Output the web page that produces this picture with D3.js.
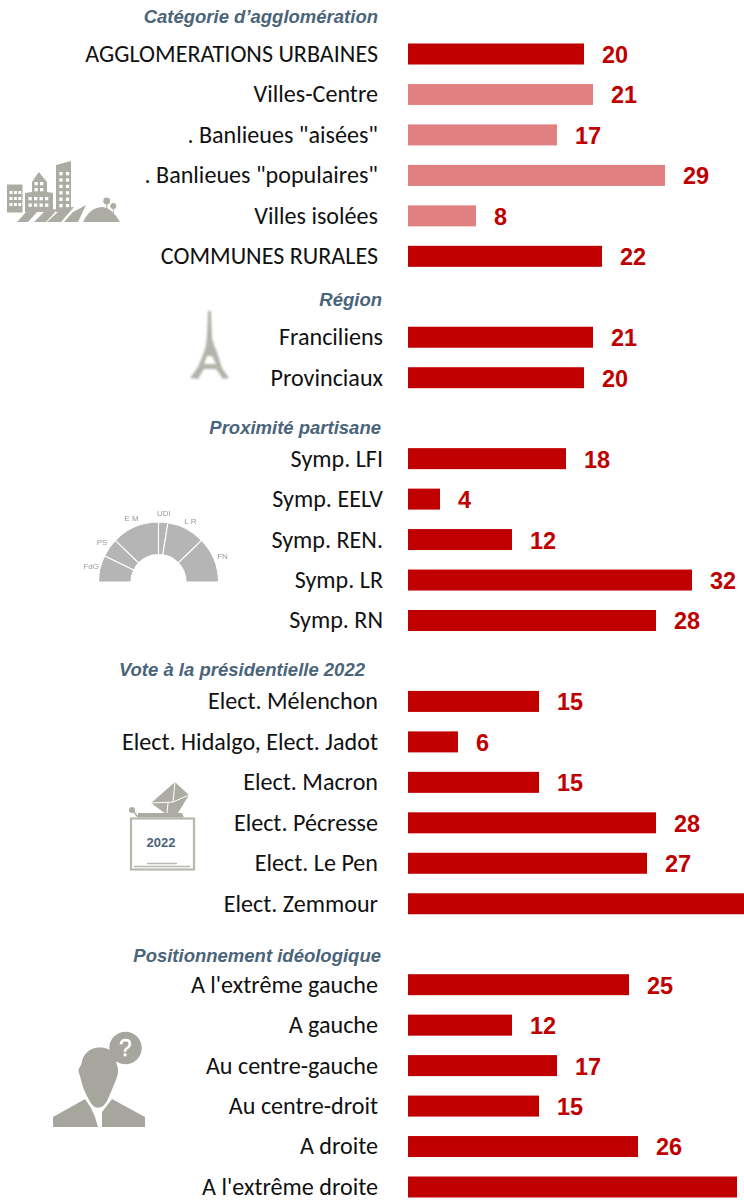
<!DOCTYPE html>
<html><head><meta charset="utf-8">
<script src="https://cdn.jsdelivr.net/npm/d3@7"></script>
<style>html,body{margin:0;padding:0;background:#fff;overflow:hidden}svg{display:block}</style>
</head><body><div id="chart"></div>
<script>
const sectionTitles = ["Catégorie d’agglomération","Région","Proximité partisane","Vote à la présidentielle 2022","Positionnement idéologique"];
const sectionLabels = [
  ["AGGLOMERATIONS URBAINES","Villes-Centre",". Banlieues \"aisées\"",". Banlieues \"populaires\"","Villes isolées","COMMUNES RURALES"],
  ["Franciliens","Provinciaux"],
  ["Symp. LFI","Symp. EELV","Symp. REN.","Symp. LR","Symp. RN"],
  ["Elect. Mélenchon","Elect. Hidalgo, Elect. Jadot","Elect. Macron","Elect. Pécresse","Elect. Le Pen","Elect. Zemmour"],
  ["A l'extrême gauche","A gauche","Au centre-gauche","Au centre-droit","A droite","A l'extrême droite"]
];
const sectionValues = [[20,21,17,29,8,22],[21,20],[18,4,12,32,28],[15,6,15,28,27,38],[25,12,17,15,26,37]];
const subRows = ["Villes-Centre",". Banlieues \"aisées\"",". Banlieues \"populaires\"","Villes isolées"];
const hemicycleParties = ["FdG","PS","E M","UDI","L R","FN"];
const hemicycleShares = [26,18,46,9,37,44];

const W=744,H=1203, RED="#C00000", PINK="#E08080", GREY="#ADACA4", TITLE="#4A6479";
const svg=d3.select("#chart").append("svg").attr("width",W).attr("height",H).attr("viewBox",`0 0 ${W} ${H}`);
const defs=svg.append("defs");
defs.append("filter").attr("id","soft").append("feGaussianBlur").attr("stdDeviation",0.5);
defs.append("filter").attr("id","softer").append("feGaussianBlur").attr("stdDeviation",0.9);

const rows=[]; let slot=0;
sectionLabels.forEach((labs,s)=>{
  labs.forEach((l,i)=>rows.push({section:s,label:l,value:sectionValues[s][i],slot:slot+i}));
  slot+=labs.length+1;
});
const y=d3.scaleLinear().domain([0,28]).range([54,1187]);
const x=d3.scaleLinear().domain([0,40]).range([404,764]);
const baseline=408, barH=21;
const labelRight=[378,383,383,378,378];
const titleRight=[378,382,381,365,381];
const titleY=[17,300,428,670,956];

const g=svg.append("g");
g.selectAll("rect.bar").data(rows).join("rect").attr("class","bar")
  .attr("x",baseline).attr("y",d=>y(d.slot)-barH/2)
  .attr("width",d=>x(d.value)-baseline).attr("height",barH)
  .attr("fill",d=>subRows.includes(d.label)?PINK:RED);
g.selectAll("text.cat").data(rows).join("text").attr("class","cat")
  .attr("x",d=>labelRight[d.section]).attr("y",d=>y(d.slot)-0.5).attr("dy","0.35em")
  .attr("text-anchor","end").attr("font-family","Carlito, Lato, sans-serif").attr("font-size",24.1).attr("fill","#111")
  .text(d=>d.label);
// the two longest bars leave no room for their value inside the picture
g.selectAll("text.val").data(rows.filter(d=>x(d.value)+18+26<=W)).join("text").attr("class","val")
  .attr("x",d=>x(d.value)+18).attr("y",d=>y(d.slot)+0.5).attr("dy","0.36em")
  .attr("font-family","'Liberation Sans',Arial,sans-serif").attr("font-weight","bold").attr("font-size",23.5).attr("fill",RED)
  .text(d=>d.value);
g.selectAll("text.title").data(sectionTitles).join("text").attr("class","title")
  .attr("x",(d,i)=>titleRight[i]).attr("y",(d,i)=>titleY[i]-0.5).attr("dy","0.35em")
  .attr("text-anchor","end").attr("font-family","'Liberation Sans',Arial,sans-serif")
  .attr("font-weight","bold").attr("font-style","italic").attr("font-size",18.5).attr("fill",TITLE)
  .text(d=>d);

const line=d3.line().curve(d3.curveLinear);
function poly(p,pts,fill=GREY){return p.append("path").attr("d",line(pts)+"Z").attr("fill",fill);}

// city
const city=svg.append("g").attr("filter","url(#soft)");
function windows(x0,y0,nx,ny,dx,dy,s){
  d3.range(ny).forEach(j=>d3.range(nx).forEach(i=>city.append("rect")
    .attr("x",x0+i*dx).attr("y",y0+j*dy).attr("width",s).attr("height",s).attr("fill","#fff")));
}
city.append("rect").attr("x",7).attr("y",184.5).attr("width",15.5).attr("height",28).attr("fill",GREY);
windows(9.5,191,3,3,4.4,6,3);
poly(city,[[25,212],[25,193],[32,192],[32,182],[36,176],[39,172],[42,176],[47,182],[47,192],[53,193],[53,212]]);
windows(28.5,197,4,2,5.5,6.5,3.3);
windows(34.5,182,2,2,5.5,6,3.3);
poly(city,[[56,212],[56,165],[71,161],[71,210]]);
windows(59.3,172,2,6,6.6,6.4,3.3);
poly(city,[[17,222],[27,211],[38,211],[28,222]]);
poly(city,[[34,222],[46,210],[58,209],[46,222]]);
poly(city,[[47,222],[62,208],[74,207],[61,222]]);
poly(city,[[64,222],[73,212],[86,205],[78,222]]);
city.append("path").attr("d","M83 222 Q90 207 103 207 Q112 208 120 222 Z").attr("fill",GREY);
city.append("circle").attr("cx",106.7).attr("cy",201).attr("r",3.4).attr("fill",GREY);
city.append("circle").attr("cx",113.3).attr("cy",206).attr("r",3).attr("fill",GREY);
city.append("path").attr("d","M106.7 203V212M113.3 208V214").attr("stroke",GREY).attr("stroke-width",1);

// Eiffel tower
const eiffel=svg.append("g").attr("filter","url(#softer)");
eiffel.append("path").attr("fill","#B4B3AB").attr("fill-rule","evenodd")
  .attr("d","M208 311 L211 311 L212 338 L214 345 L217 352 L222 368 L229 378 L223 379 L216 369 L204 369 L198 379 L190 378 L198 367 L204 352 L206 345 L207 335 Z M207 356 L204 364 L216 364 L212 356 Z");

// hemicycle
const hemi=svg.append("g").attr("transform","translate(158.5,582)").attr("filter","url(#soft)");
const pie=d3.pie().sort(null).startAngle(-Math.PI/2).endAngle(Math.PI/2);
const arc=d3.arc().innerRadius(27.5).outerRadius(60);
const arcs=pie(hemicycleShares);
hemi.selectAll("path").data(arcs).join("path").attr("d",arc).attr("fill","#B5B5B5").attr("stroke","#fff").attr("stroke-width",1.1);
const labelPos=d3.arc().innerRadius(69).outerRadius(69);
hemi.selectAll("text").data(arcs).join("text")
  .attr("transform",d=>`translate(${labelPos.centroid(d)})`)
  .attr("text-anchor","middle").attr("dy","0.35em").attr("font-family","'Liberation Sans',sans-serif")
  .attr("font-size",8).attr("fill","#999").text((d,i)=>hemicycleParties[i]);

// ballot box
const box=svg.append("g");
const bs=box.append("g").attr("filter","url(#soft)");
poly(bs,[[175,782],[189,795],[178,813],[166,814],[151,803]],"#ADACA4");
bs.append("path").attr("d","M175 782 L173 802 L151 803 M173 802 L189 795 M168 803 L167 813").attr("fill","none").attr("stroke","#fff").attr("stroke-width",1);
poly(bs,[[138,813],[182,813],[184,817.5],[138,817.5]]);
bs.append("circle").attr("cx",132).attr("cy",810).attr("r",3).attr("fill",GREY);
bs.append("path").attr("d","M133 811 L138 817").attr("stroke",GREY).attr("stroke-width",1.5);
bs.append("rect").attr("x",131).attr("y",818.5).attr("width",63).attr("height",51).attr("fill","#fff").attr("stroke","#B9B8AF").attr("stroke-width",2.2);
bs.append("path").attr("d","M147 863.5H177M134 866.5H190").attr("stroke","#B9B8AF").attr("stroke-width",1.3);
box.append("text").attr("x",161).attr("y",842).attr("dy","0.36em").attr("text-anchor","middle")
  .attr("font-family","'Liberation Sans',sans-serif").attr("font-weight","bold").attr("font-size",13).attr("fill",TITLE).text("2022");

// person
const person=svg.append("g").attr("filter","url(#soft)");
const PG="#A7A69E";
poly(person,[[53,1117],[85,1099],[91,1108],[95,1117],[98,1127],[53,1127]],PG);
poly(person,[[102,1127],[102,1112],[112,1099],[145,1117],[145,1127]],PG);
const headCurve=d3.line().curve(d3.curveCatmullRomClosed.alpha(0.5));
person.append("path").attr("fill",PG)
  .attr("d",headCurve([[84,1056],[93,1048.5],[108,1049],[116,1062],[118,1072],[113,1087],[103,1106],[95,1107],[85,1092],[80,1076],[78.5,1070],[81,1065]]));
person.append("circle").attr("cx",125.5).attr("cy",1048).attr("r",16.2).attr("fill",PG);
poly(person,[[112,1054],[110,1064],[122,1060]],PG);
person.append("text").attr("x",125.5).attr("y",1048).attr("dy","0.36em").attr("text-anchor","middle")
  .attr("font-family","'Liberation Sans',sans-serif").attr("font-size",23).attr("fill","#fff").attr("stroke","#fff").attr("stroke-width",.5).text("?");
</script></body></html>
